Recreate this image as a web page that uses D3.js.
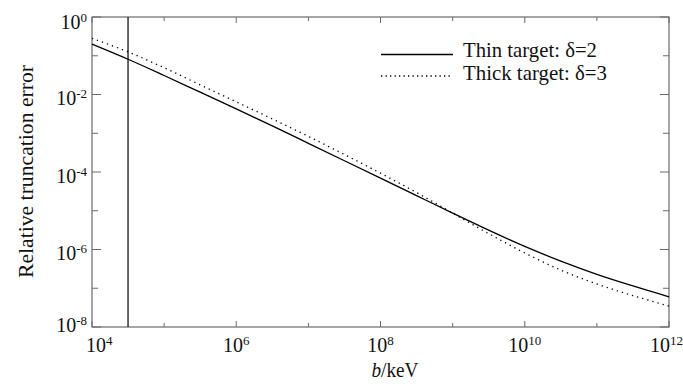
<!DOCTYPE html>
<html><head><meta charset="utf-8">
<script src="https://cdn.jsdelivr.net/npm/d3@7"></script>
<style>body{margin:0;background:#fff}svg{display:block}text{font-family:"Liberation Serif","Times New Roman",serif;fill:#111}</style>
</head><body>
<script>
const logB     = [4, 4.5, 5, 5.5, 6, 6.5, 7, 7.5, 8, 8.5, 9, 9.5, 10, 10.5, 11, 11.5, 12];
const thinLog  = [-0.70, -1.09, -1.51, -1.94, -2.37, -2.81, -3.26, -3.71, -4.16, -4.61, -5.06, -5.50, -5.92, -6.30, -6.64, -6.94, -7.22];
const thickLog = [-0.55, -0.90, -1.31, -1.75, -2.19, -2.63, -3.08, -3.55, -4.03, -4.53, -5.06, -5.59, -6.09, -6.53, -6.89, -7.19, -7.46];
const xTickExps = [4, 6, 8, 10, 12];
const yTickExps = [0, -2, -4, -6, -8];
const markerB = 3.16e4;
const seriesNames = ["Thin target: δ=2", "Thick target: δ=3"];

const W = 683, H = 389;
const m = {l: 92, r: 14, t: 17, b: 62};
const svg = d3.select("body").append("svg").attr("width", W).attr("height", H);
const x = d3.scaleLog().domain([1e4, 1e12]).range([m.l, W - m.r]);
const y = d3.scaleLog().domain([1e-8, 1]).range([H - m.b, m.t]);
const axisCol = "#6a6a6a";

// frame
svg.append("rect").attr("x", m.l).attr("y", m.t).attr("width", W - m.r - m.l).attr("height", H - m.b - m.t)
  .attr("fill", "none").attr("stroke", axisCol).attr("stroke-width", 1.2);

// ticks (inward), every decade; even decades longer
d3.range(4, 13).forEach(e => {
  const L = e % 2 === 0 ? 6 : 4, xx = x(Math.pow(10, e));
  svg.append("line").attr("x1", xx).attr("x2", xx).attr("y1", y.range()[0]).attr("y2", y.range()[0] - L).attr("stroke", axisCol);
  svg.append("line").attr("x1", xx).attr("x2", xx).attr("y1", m.t).attr("y2", m.t + L).attr("stroke", axisCol);
});
d3.range(-8, 1).forEach(e => {
  const L = e % 2 === 0 ? 9 : 6, yy = y(Math.pow(10, e));
  svg.append("line").attr("x1", m.l).attr("x2", m.l + L).attr("y1", yy).attr("y2", yy).attr("stroke", axisCol);
  svg.append("line").attr("x1", W - m.r).attr("x2", W - m.r - L).attr("y1", yy).attr("y2", yy).attr("stroke", axisCol);
});

// tick labels
function pow10(t, e) {
  t.append("tspan").text("10");
  t.append("tspan").attr("dy", -7).attr("font-size", 13).text(e);
}
xTickExps.forEach(e => {
  const t = svg.append("text").attr("x", x(Math.pow(10, e))).attr("y", 352).attr("text-anchor", "middle").attr("font-size", 20);
  pow10(t, e);
  const bb = t.node().getBBox();
  if (bb.x < 86) t.attr("x", +t.attr("x") + (86 - bb.x));
  if (bb.x + bb.width > 683) t.attr("x", +t.attr("x") - (bb.x + bb.width - 683));
});
yTickExps.forEach(e => {
  const base = Math.min(Math.max(y(Math.pow(10, e)) + 10.5, 29), 332);
  const t = svg.append("text").attr("x", 87).attr("y", base).attr("text-anchor", "end").attr("font-size", 20);
  pow10(t, e);
});

// axis titles
const xt = svg.append("text").attr("x", 395).attr("y", 377).attr("text-anchor", "middle").attr("font-size", 20)
  .attr("textLength", 47).attr("lengthAdjust", "spacingAndGlyphs");
xt.append("tspan").attr("font-style", "italic").text("b");
xt.append("tspan").text("/keV");
svg.append("text").attr("transform", "translate(32.5,171.5) rotate(-90)")
  .attr("text-anchor", "middle").attr("font-size", 21)
  .attr("textLength", 213).attr("lengthAdjust", "spacingAndGlyphs").text("Relative truncation error");

// marker line
svg.append("line").attr("x1", x(markerB)).attr("x2", x(markerB)).attr("y1", y(1)).attr("y2", y(1e-8))
  .attr("stroke", "#000").attr("stroke-width", 1.2);

// curves
const line = d3.line().x(d => x(Math.pow(10, d[0]))).y(d => y(Math.pow(10, d[1]))).curve(d3.curveCatmullRom);
svg.append("path").datum(logB.map((b, i) => [b, thinLog[i]])).attr("d", line)
  .attr("fill", "none").attr("stroke", "#000").attr("stroke-width", 1.3);
svg.append("path").datum(logB.map((b, i) => [b, thickLog[i]])).attr("d", line)
  .attr("fill", "none").attr("stroke", "#000").attr("stroke-width", 1.3).attr("stroke-dasharray", "1.3,4");

// legend
const leg = [{y: 54.5, base: 57, len: 134, dash: null}, {y: 76, base: 80, len: 144, dash: "1.3,3.2"}];
leg.forEach((l, i) => {
  const ln = svg.append("line").attr("x1", 381).attr("x2", 453).attr("y1", l.y).attr("y2", l.y)
    .attr("stroke", "#000").attr("stroke-width", 1.3);
  if (l.dash) ln.attr("stroke-dasharray", l.dash);
  svg.append("text").attr("x", 463).attr("y", l.base).attr("font-size", 21)
    .attr("textLength", l.len).attr("lengthAdjust", "spacingAndGlyphs").text(seriesNames[i]);
});
</script>
</body></html>
